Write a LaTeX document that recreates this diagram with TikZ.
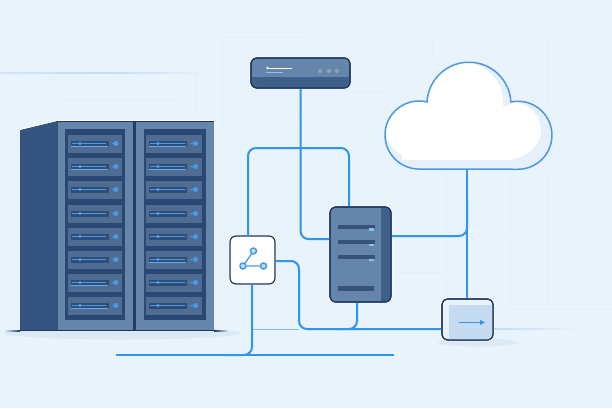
\documentclass[tikz,border=0pt]{standalone}
\definecolor{paper}{HTML}{E9F3FB}
\definecolor{gridfaint}{HTML}{E3EEF8}
\definecolor{ruleblue}{HTML}{C6DBF0}
\definecolor{wire}{HTML}{2F96F0}
\definecolor{outline}{HTML}{1D3560}
\definecolor{steel}{HTML}{6685AB}
\definecolor{steeldark}{HTML}{3F608A}
\definecolor{sidepanel}{HTML}{34557F}
\definecolor{bay}{HTML}{294873}
\definecolor{unitface}{HTML}{506C93}
\definecolor{slot}{HTML}{304D78}
\definecolor{ledblue}{HTML}{4A9BE6}
\definecolor{shadowtone}{HTML}{DBE9F4}
\definecolor{cloudshade}{HTML}{E5F0FA}
\definecolor{cloudline}{HTML}{4A98E4}
\definecolor{traypanel}{HTML}{C4DBF1}
\begin{document}
\begin{tikzpicture}[x=1pt,y=-1pt,
  gridline/.style={draw=gridfaint,line width=0.6pt},
  link/.style={draw=wire,line width=2pt,rounded corners=8pt},
  box/.style={draw=outline,line width=1.2pt,rounded corners=6pt,inner sep=0pt,outer sep=0pt,
    preaction={draw=white,line width=2.8pt}},
  slotbar/.style={fill=steeldark!85!black},
  netdot/.style={circle,draw=ledblue,line width=1.5pt,fill=ledblue!35!white,minimum size=6pt,inner sep=0pt}
]
\useasboundingbox (0,0) rectangle (612,408);
\fill[paper] (0,0) rectangle (612,408);

% faint backdrop lines
\draw[gridline] (0,38) -- (165,38) -- (192,58);
\draw[gridline] (222,37) -- (306,37);
\draw[gridline] (222,37) -- (222,130);
\draw[gridline] (195,72) -- (195,112);
\draw[gridline] (60,99) -- (178,99);
\draw[gridline] (226,73) -- (250,73);
\draw[gridline] (274,88) -- (274,132);
\draw[gridline] (222,118) -- (420,118);
\draw[gridline] (432,40) -- (432,62);
\draw[gridline] (548,40) -- (548,110);
\draw[gridline] (345,91) -- (390,91);
\draw[gridline] (446,170) -- (446,299);
\draw[gridline] (510,172) -- (510,310);
\draw[gridline] (547,172) -- (547,310);
\draw[gridline] (470,233) -- (612,233);
\draw[gridline] (510,309) -- (612,309);
\draw[gridline] (400,272) -- (446,272);
\shade[left color=ruleblue!60!paper,right color=paper,middle color=ruleblue] (0,72) rectangle (212,73.2);

% ground shadows
\fill[shadowtone] (122,333) ellipse [x radius=118,y radius=6.5];
\fill[shadowtone] (478,342.5) ellipse [x radius=40,y radius=4];
\shade[left color=shadowtone,right color=outline] (5,330) rectangle (20,331.4);
\fill[outline] (20,330) rectangle (214,331.4);
\shade[left color=outline,right color=shadowtone] (214,330) rectangle (228,331.4);

% rack enclosure
\fill[sidepanel] (20,130) -- (57,121) -- (57,330) -- (20,330) -- cycle;
\draw[white,line width=0.8pt] (20,129.4) -- (57,120.4) -- (214,120.4);
\fill[steel] (57,121) rectangle (214,330);
\fill[bay!85!black] (133,121) rectangle (136,330);
\draw[outline,line width=0.7pt] (57,121) -- (214,121);
\draw[outline!70!steel,line width=0.5pt] (57,121) -- (57,330);
\fill[bay] (65,129) rectangle (125,320);
\fill[bay] (144,129) rectangle (206,320);

% rack units: y position, left bay lower trace flag, right bay lower trace flag
\foreach \uy/\la/\ra in {135/1/1,158/1/1,181/0/0,205/0/0,228/0/0,251/0/1,274/1/0,297/1/0}{
  \fill[unitface] (68,\uy) rectangle (122,\uy+17.5);
  \fill[slot] (71,\uy+6) rectangle (109,\uy+11.5);
  \draw[ledblue,line width=1.1pt] (72,\uy+8.5) -- (106,\uy+8.5);
  \draw[ledblue,line width=1.1pt] (80,\uy+6.5) -- (80,\uy+10);
  \fill[ledblue] (116,\uy+8.5) circle (2.5);
  \draw[ledblue,line width=1pt] (112,\uy+8.8) -- (116,\uy+8.5);
  \ifnum\la=1
    \draw[ledblue!85!white,line width=0.8pt] (71,\uy+11.5) -- (108,\uy+11.5);
  \fi
  \fill[unitface] (146,\uy) rectangle (202,\uy+17.5);
  \fill[slot] (149,\uy+6) rectangle (187,\uy+11.5);
  \draw[ledblue,line width=1.1pt] (150,\uy+8.5) -- (185,\uy+8.5);
  \draw[ledblue,line width=1.1pt] (158,\uy+6.5) -- (158,\uy+10);
  \fill[ledblue] (195.5,\uy+8.5) circle (2.5);
  \draw[ledblue,line width=1pt] (190,\uy+8.8) -- (195,\uy+8.5);
  \ifnum\ra=1
    \draw[ledblue!85!white,line width=0.8pt] (149,\uy+11.5) -- (186,\uy+11.5);
  \fi
}

% connected devices
\node[box,fill=steel,minimum width=99pt,minimum height=30pt,anchor=north west] (router) at (251,58) {};
\node[box,fill=steel,minimum width=61pt,minimum height=95pt,anchor=north west] (server) at (330,207) {};
\node[box,fill=white,minimum width=45pt,minimum height=48pt,anchor=north west] (switch) at (230,236) {};
\node[box,fill=paper,minimum width=51pt,minimum height=41pt,anchor=north west] (tray) at (442,299) {};
\coordinate (cloudfoot) at (467,169);
\coordinate (busleft) at (116,355);
\coordinate (busright) at (394,355);
\coordinate (ruleleft) at (253,329);
\coordinate (trunkjoin) at (299,329);

% connectors
\draw[draw=ruleblue!55!wire,line width=1pt] (ruleleft) -- (trunkjoin);
\draw[link] (router.south) -- (300.5,239) -- (330,239);
\draw[link] (248,236) -- (248,148) -- (349,148) -- (349,207);
\draw[link] (275,261) -- (299,261) -- (trunkjoin) -- (442,329);
\draw[link] (357,302) -- (357,329) -- (335,329);
\draw[link] (252,284) -- (252,355) -- (225,355);
\draw[link] (busleft) -- (busright);
\draw[link] (391,236) -- (467,236) -- (467,200);
\draw[link] (cloudfoot) -- (467,299);
\shade[left color=ruleblue,right color=paper] (494,328.4) rectangle (582,329.8);

% router details
\begin{scope}
  \clip[rounded corners=6pt] (251,58) rectangle (350,88);
  \fill[steeldark] (251,77) rectangle (350,88);
\end{scope}
\draw[outline,line width=1.2pt,rounded corners=6pt] (251,58) rectangle (350,88);
\draw[white,line width=0.9pt] (267,68.3) -- (292,68.3);
\fill[white!70!ledblue] (267.5,68) circle (1.6);
\draw[ledblue!60!white,line width=0.8pt] (266,72.3) -- (283,72.3);
\foreach \dx in {320,329,337}{\fill[steeldark!60!white] (\dx,71) circle (2.1);}

% server details
\begin{scope}
  \clip[rounded corners=6pt] (330,207) rectangle (391,302);
  \fill[steeldark] (381,207) rectangle (391,302);
\end{scope}
\draw[outline,line width=1.2pt,rounded corners=6pt] (330,207) rectangle (391,302);
\foreach \sy in {226.5,242,257}{
  \fill[slotbar] (338,\sy-2) rectangle (375,\sy+2);
  \fill[ledblue!65!white] (368.5,\sy+1.5) rectangle (374,\sy+4);
}
\fill[slotbar] (338,286) rectangle (374,290.5);

% switch icon
\node[netdot] (hubtop) at (253.5,251) {};
\node[netdot] (hubleft) at (243,266) {};
\node[netdot] (hubright) at (263.5,266) {};
\draw[ledblue,line width=1.3pt] (hubtop) -- (hubleft) -- (hubright);

% tray details
\begin{scope}
  \clip[rounded corners=6pt] (442,299) rectangle (493,340);
  \fill[traypanel] (449,305) rectangle (493,340);
\end{scope}
\draw[outline,line width=1.2pt,rounded corners=6pt] (442,299) rectangle (493,340);
\draw[wire,line width=1pt] (459,322.3) -- (481,322.3);
\fill[wire] (480,320) -- (485,322.3) -- (480,325) -- cycle;

% cloud
\def\cloudpath{(427,102) arc[start angle=177,end angle=3,radius=42pt]
  arc[start angle=102,end angle=-90,radius=34pt] -- (419,169)
  arc[start angle=270,end angle=76,radius=34pt] -- cycle}
\fill[cloudshade] \cloudpath;
\begin{scope}
  \clip \cloudpath;
  \fill[white] (419,126) circle (34);
  \fill[white] (402,110) rectangle (505,160);
  \fill[white] (505,130) ellipse [x radius=36,y radius=30];
  \fill[cloudshade] (498,85) -- (514,85) -- (514,102.5) -- (502,107.5) -- cycle;
  \fill[white] (463,103) circle (40.5);
  \fill[cloudshade] (380,147) .. controls (388,156) and (398,160) .. (410,160) -- (410,172) -- (380,172) -- cycle;
\end{scope}
\draw[cloudline,line width=1.5pt,line join=round] \cloudpath;
\end{tikzpicture}
\end{document}
